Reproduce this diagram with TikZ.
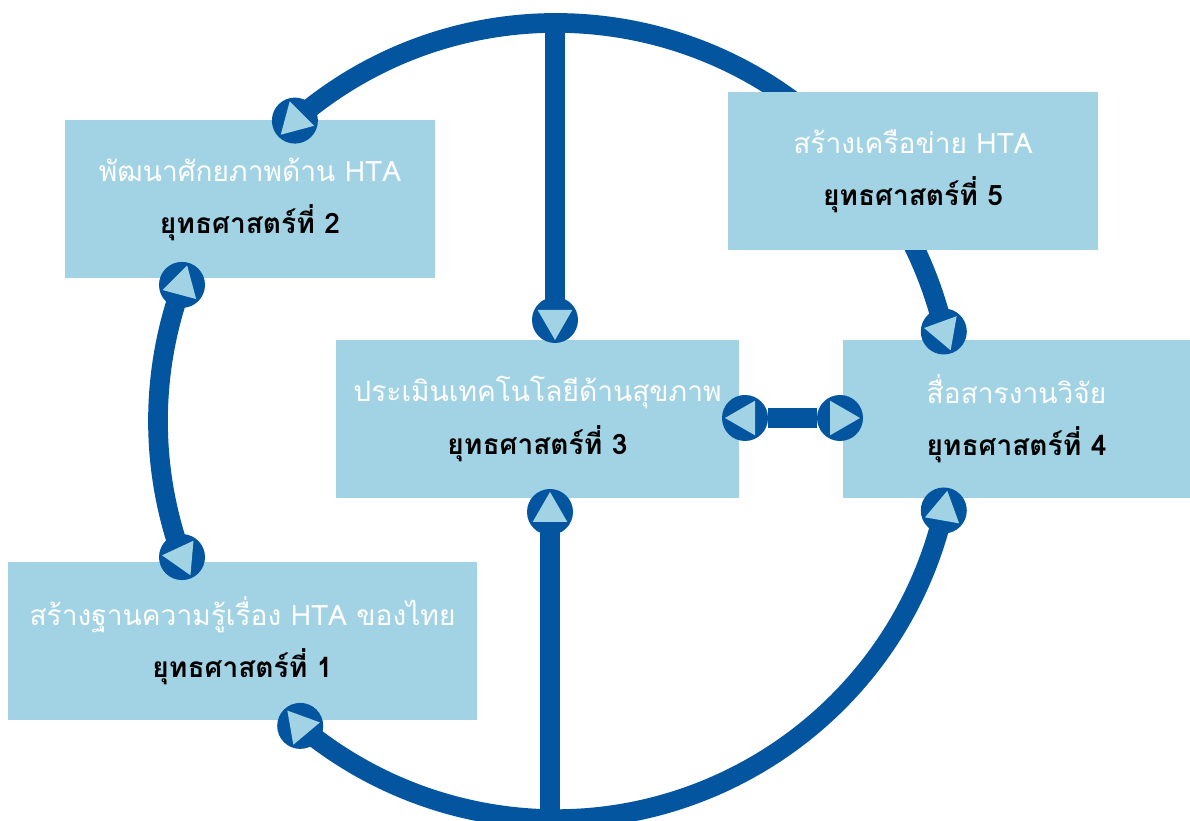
\documentclass[tikz,border=0pt]{standalone}
\usepackage{fontspec}
\setmainfont[Script=Thai]{Loma}
\usetikzlibrary{shapes.geometric,backgrounds}
\definecolor{htadark}{RGB}{3, 85, 159}
\definecolor{htalight}{RGB}{161, 211, 228}

\tikzset{
    box/.style={fill=htalight, inner sep=0pt, align=center, font=\fontsize{20}{37}\selectfont},
    ring/.style={draw=htadark, line width=14pt},
    tipdot/.style={circle, fill=htadark, minimum size=1.15cm, inner sep=0pt},
    tiptri/.style={regular polygon, regular polygon sides=3, fill=htalight, minimum size=1cm, inner sep=0pt, shape border rotate=#1}
}
\newcommand{\boxtext}[2]{\textcolor{white}{#1}\\\textbf{#2}}

\begin{document}
\begin{tikzpicture}[x=0.025cm, y=0.025cm]
    \useasboundingbox (0,0) rectangle (1190,821);
    \coordinate (top) at (555,798);
    \coordinate (bot) at (550,2);

    % Strategy boxes
    \node[box, minimum width=9.25cm, minimum height=3.95cm] (s2) at (250,622) {\boxtext{พัฒนาศักยภาพด้าน HTA}{ยุทธศาสตร์ที่ 2}};
    \node[box, minimum width=9.25cm, minimum height=3.95cm] (s5) at (913,650) {\boxtext{สร้างเครือข่าย HTA}{ยุทธศาสตร์ที่ 5}};
    \node[box, minimum width=10.075cm, minimum height=3.95cm] (s3) at (537.5,402) {\boxtext{ประเมินเทคโนโลยีด้านสุขภาพ}{ยุทธศาสตร์ที่ 3}};
    \node[box, minimum width=8.675cm, minimum height=3.95cm] (s4) at (1016.5,402) {\boxtext{สื่อสารงานวิจัย}{ยุทธศาสตร์ที่ 4}};
    \node[box, minimum width=11.725cm, minimum height=3.95cm] (s1) at (242.5,180) {\boxtext{สร้างฐานความรู้เรื่อง HTA ของไทย}{ยุทธศาสตร์ที่ 1}};

    % Arrow ends: name / x / y / triangle turn
    \foreach \n/\x/\y/\r in {t1/294.9/700.4/-105, t2/182/536.1/-15, t3/182/263.9/85,
                             t4/555/501/180, t5/745/403/90, t6/840/403/-90,
                             t7/943.8/489.5/-40, t8/943.8/310.5/-10,
                             t9/300.2/95.1/-80, t10/550/309/0} {
        \node[tipdot] (\n) at (\x,\y) {};
        \node[tiptri=\r] (\n x) at (\n) {};
    }

    % Ring and links
    \begin{scope}[on background layer]
        \draw[ring] (t1.center) arc[start angle=131, end angle=13, radius=9.95cm];
        \draw[ring] (t2.center) arc[start angle=160, end angle=200, radius=9.95cm];
        \draw[ring] (t8.center) arc[start angle=-13, end angle=-130, radius=9.95cm];
        \draw[ring] (top) -- (t4.center);
        \draw[ring] (t10.center) -- (bot);
        \draw[ring] (t5) -- (t6);
    \end{scope}
\end{tikzpicture}
\end{document}
